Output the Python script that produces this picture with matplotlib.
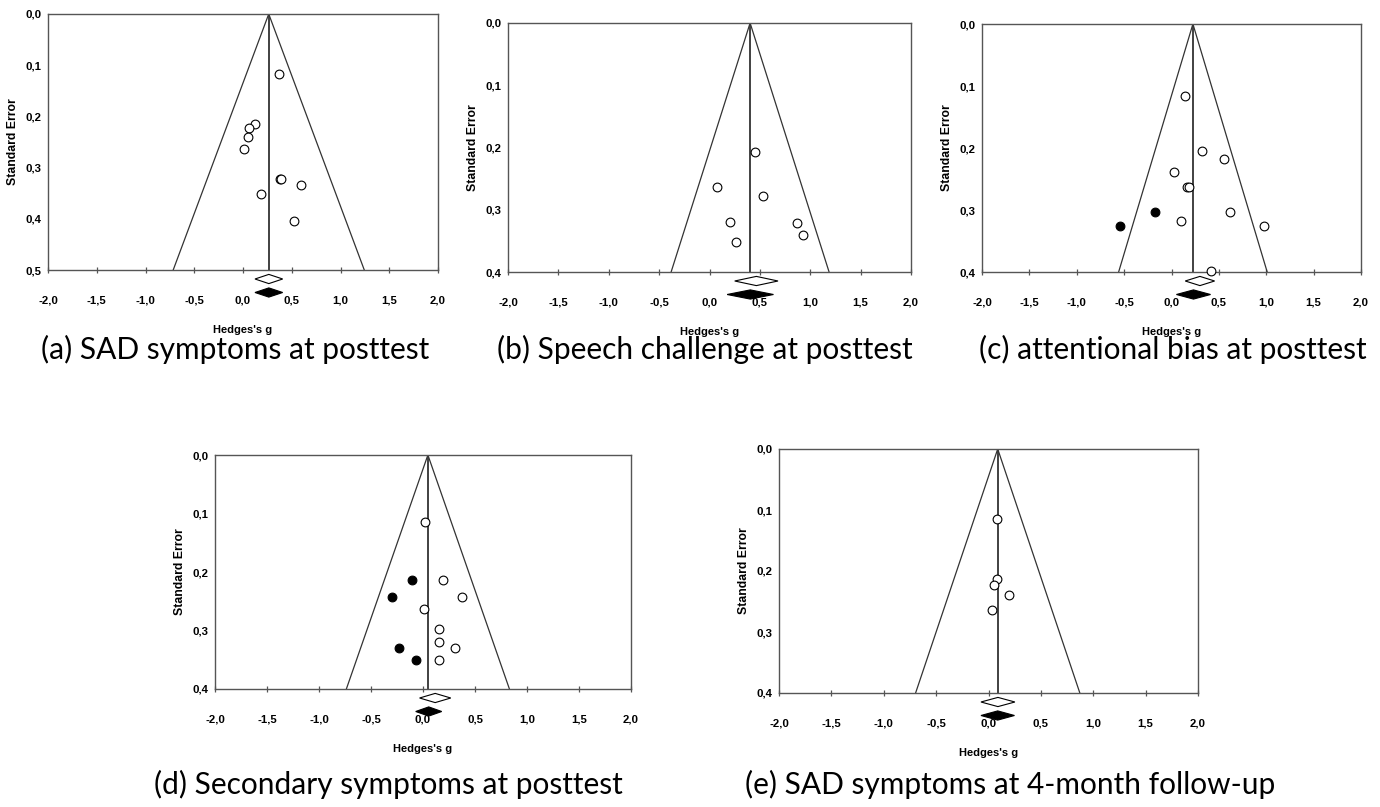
import matplotlib
matplotlib.use("Agg")
import matplotlib.pyplot as plt
from matplotlib.patches import Polygon
from matplotlib.ticker import FuncFormatter, MultipleLocator
from matplotlib.transforms import blended_transform_factory

plt.rcParams["font.family"] = ["Liberation Sans", "DejaVu Sans"]
plt.rcParams["font.weight"] = "bold"

# ---------------- data ----------------
titles = ["(a) SAD symptoms at posttest",
          "(b) Speech challenge at posttest",
          "(c) attentional bias at posttest",
          "(d) Secondary symptoms at posttest",
          "(e) SAD symptoms at 4-month follow-up"]

# combined effect (funnel centre), max standard error shown
centers = [0.264, 0.403, 0.226, 0.047, 0.088]
se_max = [0.5, 0.4, 0.4, 0.4, 0.4]

# diamonds: observed (open) and adjusted (filled) -> (centre, half-width)
open_diamond = [(0.265, 0.142), (0.465, 0.215), (0.300, 0.155), (0.117, 0.150), (0.090, 0.162)]
filled_diamond = [(0.265, 0.142), (0.405, 0.230), (0.232, 0.180), (0.055, 0.125), (0.088, 0.160)]

# observed studies (open circles)
a_g = [0.366, 0.123, 0.065, 0.055, 0.007, 0.377, 0.390, 0.596, 0.182, 0.524]
a_se = [0.118, 0.2145, 0.222, 0.2405, 0.264, 0.3227, 0.3227, 0.3338, 0.351, 0.4035]
b_g = [0.449, 0.071, 0.535, 0.207, 0.873, 0.926, 0.263]
b_se = [0.2073, 0.2636, 0.2787, 0.319, 0.3216, 0.340, 0.3517]
c_g = [0.144, 0.320, 0.556, 0.025, 0.165, 0.187, 0.613, 0.099, 0.979, 0.419]
c_se = [0.1164, 0.2054, 0.2178, 0.2394, 0.2636, 0.2636, 0.303, 0.3175, 0.3256, 0.398]
d_g = [0.016, 0.192, 0.375, 0.006, 0.151, 0.151, 0.308, 0.151]
d_se = [0.1153, 0.2142, 0.2432, 0.2636, 0.2977, 0.3193, 0.3295, 0.351]
e_g = [0.080, 0.080, 0.048, 0.191, 0.029]
e_se = [0.1153, 0.2131, 0.223, 0.240, 0.2634]

# imputed studies (filled circles)
c_imp_g = [-0.176, -0.542]
c_imp_se = [0.303, 0.3256]
d_imp_g = [-0.106, -0.295, -0.234, -0.071]
d_imp_se = [0.2142, 0.2432, 0.3295, 0.351]

observed = [(a_g, a_se), (b_g, b_se), (c_g, c_se), (d_g, d_se), (e_g, e_se)]
imputed = [([], []), ([], []), (c_imp_g, c_imp_se), (d_imp_g, d_imp_se), ([], [])]

x_ticks = [-2.0, -1.5, -1.0, -0.5, 0.0, 0.5, 1.0, 1.5, 2.0]

# ---------------- layout (pixels) ----------------
W, H = 1380, 807
boxes = [(48, 438, 14, 270), (508, 911, 23, 272), (982, 1361, 24, 272),
         (215, 631, 455, 689), (779, 1198, 449, 693)]
caption_pos = [(235, 349), (705, 349), (1173, 349), (388, 784), (1010, 784)]

fig = plt.figure(figsize=(W / 100, H / 100), dpi=100)
fig.patch.set_facecolor("white")

fmt = FuncFormatter(lambda v, p: f"{v:.1f}".replace(".", ","))
line_col = "#333333"

for i in range(5):
    l, r, t, b = boxes[i]
    wpx, hpx = r - l, b - t
    ax = fig.add_axes([l / W, 1 - b / H, wpx / W, hpx / H])
    ax.set_xlim(-2.0, 2.0)
    ax.set_ylim(se_max[i], 0.0)
    ax.set_xticks(x_ticks)
    ax.yaxis.set_major_locator(MultipleLocator(0.1))
    ax.xaxis.set_major_formatter(fmt)
    ax.yaxis.set_major_formatter(fmt)
    for s in ax.spines.values():
        s.set_color("#555555")
        s.set_linewidth(1.0)
    ax.tick_params(axis="x", direction="inout", length=4, width=0.9, color="#555555",
                   pad=16.5, labelsize=8.2)
    ax.tick_params(axis="y", direction="in", length=0, pad=4.5, labelsize=8.2)

    c = centers[i]
    sm = se_max[i]
    # funnel
    ax.plot([c - 1.96 * sm, c, c + 1.96 * sm], [sm, 0.0, sm], color=line_col, lw=0.9,
            solid_joinstyle="miter")
    ax.plot([c, c], [0.0, sm], color=line_col, lw=1.3)

    g, se = observed[i]
    ax.plot(g, se, linestyle="none", marker="o", ms=6.3, mfc="white", mec="black",
            mew=0.8, clip_on=False, zorder=3)
    gi, sei = imputed[i]
    if gi:
        ax.plot(gi, sei, linestyle="none", marker="o", ms=6.3, mfc="black", mec="black",
                mew=0.8, clip_on=False, zorder=3)

    # diamonds below the axis
    trans = blended_transform_factory(ax.transData, ax.transAxes)
    for (dc, hw), off, fc in [(open_diamond[i], 9.0, "white"), (filled_diamond[i], 22.5, "black")]:
        yc = -off / hpx
        hh = 4.6 / hpx
        poly = Polygon([(dc - hw, yc), (dc, yc + hh), (dc + hw, yc), (dc, yc - hh)],
                       closed=True, transform=trans, facecolor=fc, edgecolor="black",
                       linewidth=0.8, clip_on=False, zorder=4)
        ax.add_patch(poly)

    ax.set_ylabel("Standard Error", fontweight="bold", fontsize=8.8, va="center")
    ax.yaxis.set_label_coords(-35 / wpx, 0.5)
    ax.set_xlabel("Hedges's g", fontweight="bold", fontsize=8, va="center")
    ax.xaxis.set_label_coords(0.5, -60 / hpx)

    cx, cy = caption_pos[i]
    fig.text(cx / W, 1 - cy / H, titles[i], ha="center", va="center",
             fontfamily="Lato", fontweight="normal", fontsize=21.5)

fig.savefig("out.png", dpi=100, facecolor="white")
